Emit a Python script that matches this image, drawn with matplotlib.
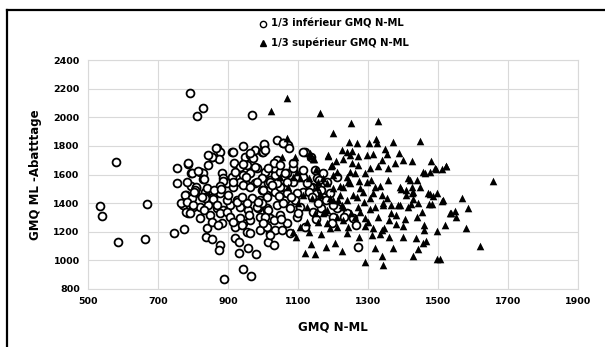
import matplotlib
matplotlib.use("Agg")
import matplotlib.pyplot as plt
from matplotlib.lines import Line2D

# ---------------- data ----------------
# 1/3 inferieur GMQ N-ML (open circles)
inf_x = [534, 540, 580, 585, 663, 670, 747, 775, 790, 811, 829, 968, 889, 942, 966, 1270,
         754, 787, 794, 755, 820, 828, 794, 809, 828, 844, 853, 868, 877, 875, 912, 942,
         949, 963, 977, 1004, 1039, 918, 934, 953, 972, 996, 882, 887, 910, 920, 944,
         963, 982, 1006, 1025, 1039, 896, 915, 934, 953, 977, 996, 1020, 1034,
         780, 806, 834, 858, 877, 866, 853, 844, 913, 963, 1003, 1001, 1056, 1072,
         1120, 1136, 787, 796, 815, 830, 782, 809, 806, 885, 877, 915, 942, 977,
         839, 837, 858, 777, 796, 772, 801, 787, 820, 844, 868, 887, 906, 925,
         944, 963, 982, 996, 1015, 1030, 1049, 1068, 1087, 1101, 968, 991, 1010, 1034,
         1058, 1087, 1115, 934, 958, 987, 1010, 1039, 1063, 1087, 1115, 1139,
         804, 767, 782, 801, 834, 780, 791, 820, 830, 849, 868, 877, 896,
         839, 837, 853, 877, 875, 853, 882, 920, 944, 953, 920, 930, 932, 958, 980,
         963, 991, 1020, 1015, 1030, 896, 925, 953, 982, 1010, 906, 934, 963, 991, 1020,
         1001, 1011, 996, 1015, 1006, 1030, 1011, 1034, 1020, 1049, 1068, 1058, 1077,
         1106, 1096, 1049, 1068, 1053, 1077, 1134, 1172, 1167, 1201, 1196, 1158, 1144,
         1258, 1267, 1210, 1239, 1006, 1058, 1075, 1115, 1030, 1049, 1015, 1063, 1087,
         1115, 1149, 1172, 1020, 1039, 1068, 1125, 1153, 1182, 1210, 1096, 1130, 1167,
         1191, 940, 1090, 1150, 1180, 1230, 1200, 1100, 1120, 1140, 1160,
         860, 900, 940, 985, 1045, 870, 915, 960, 1000, 1050, 825, 880, 950, 1025, 1080]
inf_y = [1380, 1310, 1687, 1128, 1151, 1392, 1193, 1219, 2170, 2007, 2063, 2016, 870, 940, 889, 1091,
         1643, 1673, 1608, 1543, 1620, 1608, 1520, 1504, 1566, 1667, 1720, 1783, 1760, 1706, 1760, 1802,
         1725, 1736, 1771, 1806, 1841, 1678, 1655, 1667, 1713, 1760, 1608, 1573, 1585, 1620, 1597,
         1608, 1643, 1620, 1643, 1701, 1538, 1515, 1550, 1527, 1538, 1573, 1562, 1597,
         1457, 1469, 1480, 1445, 1469, 1783, 1725, 1736, 1760, 1748, 1811, 1760, 1818, 1806,
         1754, 1725, 1678, 1613, 1627, 1567, 1550, 1511, 1492, 1557, 1520, 1550, 1673, 1655,
         1504, 1445, 1427, 1457, 1434, 1387, 1375, 1329, 1375, 1387, 1364, 1352, 1387, 1422,
         1527, 1515, 1550, 1492, 1539, 1643, 1620, 1608, 1643, 1585, 1434, 1422, 1457, 1480,
         1515, 1550, 1585, 1375, 1352, 1364, 1352, 1387, 1422, 1445, 1480, 1515,
         1480, 1399, 1410, 1387, 1434, 1340, 1329, 1294, 1352, 1317, 1387, 1329, 1340,
         1224, 1166, 1147, 1107, 1073, 1271, 1259, 1236, 1259, 1201, 1154, 1131, 1049, 1084, 1045,
         1189, 1212, 1189, 1131, 1107, 1422, 1410, 1399, 1375, 1364, 1306, 1294, 1282, 1306, 1294,
         1492, 1445, 1399, 1352, 1306, 1282, 1236, 1212, 1177, 1515, 1469, 1399, 1364,
         1375, 1306, 1317, 1259, 1212, 1189, 1515, 1445, 1364, 1306, 1259, 1399, 1340,
         1294, 1247, 1364, 1329, 1771, 1818, 1783, 1760, 1678, 1667, 1643, 1608, 1678,
         1632, 1632, 1608, 1550, 1539, 1550, 1539, 1574, 1550, 1585, 1469, 1480, 1492,
         1469, 1250, 1420, 1290, 1420, 1300, 1390, 1330, 1230, 1440, 1560,
         1495, 1455, 1440, 1410, 1450, 1250, 1270, 1320, 1260, 1290, 1440, 1500, 1580, 1530, 1440]

# 1/3 superieur GMQ N-ML (filled triangles)
sup_x = [1023, 1069, 1162, 1250, 1329, 1246, 1269, 1322, 1303, 1372, 1450, 1658, 1522, 1510,
         1514, 1569, 1586, 1536, 1549, 1580, 1620, 1506, 1292, 1344, 1497, 1120, 1149, 1227,
         1319, 1340, 1372, 1430, 1180, 1138, 1093, 1207, 1275, 1311, 1335, 1361, 1401, 1437,
         1465, 1444, 1458, 1496, 1459, 1511, 1534, 1475, 1455, 1441, 1406, 1381, 1347, 1314,
         1292, 1244, 1190, 1167, 1131, 1239, 1391, 1425, 1449, 1476, 1486, 1410, 1425, 1385,
         1367, 1422, 1344, 1320, 1353, 1199, 1325, 1187, 1225, 1239, 1253, 1249, 1272, 1296,
         1313, 1349, 1353, 1390, 1401, 1425, 1480, 1144, 1209, 1193, 1229, 1253, 1272, 1249,
         1263, 1306, 1329, 1339, 1358, 1377, 1291, 1463, 1477, 1491, 1244, 1275, 1310, 1334,
         1358, 1420, 1410, 1429, 1472, 1496, 1201, 1220, 1258, 1287, 1315, 1272, 1344, 1367,
         1391, 1415, 1444, 1482, 1215, 1229, 1163, 1182, 1172, 1201, 1134, 1053, 1068, 1091,
         1134, 1146, 1187, 1523, 1493, 1458, 1415, 1439, 1196, 1210, 1096, 1087, 1106, 1130,
         1158, 1049, 1072, 1153, 1182, 1229, 1249, 1277, 1296, 1320, 1339, 1306, 1268, 1239,
         1220, 1191, 1163, 1139, 1115, 1101, 1125, 1149, 1177, 1225, 1277, 1291, 1229, 1210,
         1182, 1158, 1125, 1106, 1087, 1263, 1300, 1330, 1380, 1400, 1250, 1290, 1360, 1395,
         1430, 1460, 1520, 1550, 1210, 1170, 1340, 1305, 1150, 1200, 1240]
sup_y = [2044, 2137, 2032, 1958, 1974, 1825, 1823, 1846, 1818, 1825, 1837, 1553, 1657, 1638,
         1420, 1434, 1369, 1331, 1345, 1224, 1100, 1008, 991, 966, 1012, 1049, 1047, 1064,
         1087, 1028, 1089, 1033, 1091, 1114, 1163, 1124, 1161, 1176, 1182, 1161, 1165, 1154,
         1135, 1080, 1119, 1207, 1212, 1418, 1334, 1392, 1336, 1306, 1288, 1252, 1229, 1224,
         1243, 1236, 1224, 1184, 1196, 1191, 1515, 1515, 1511, 1464, 1450, 1457, 1473, 1387,
         1334, 1394, 1387, 1375, 1434, 1888, 1823, 1736, 1771, 1759, 1766, 1736, 1729, 1736,
         1743, 1777, 1740, 1752, 1702, 1697, 1697, 1707, 1695, 1656, 1707, 1678, 1667, 1620,
         1613, 1643, 1660, 1702, 1643, 1678, 1613, 1613, 1620, 1643, 1550, 1557, 1562, 1520,
         1562, 1562, 1492, 1480, 1473, 1469, 1504, 1520, 1457, 1480, 1469, 1375, 1399, 1387,
         1387, 1371, 1399, 1394, 1422, 1375, 1457, 1352, 1574, 1597, 1748, 1725, 1853, 1725,
         1730, 1706, 1730, 1660, 1638, 1620, 1574, 1562, 1667, 1620, 1620, 1585, 1574, 1574,
         1550, 1585, 1515, 1515, 1539, 1515, 1539, 1504, 1550, 1515, 1457, 1434, 1445, 1422,
         1457, 1434, 1469, 1434, 1457, 1399, 1375, 1329, 1340, 1387, 1340, 1294, 1282, 1236,
         1259, 1271, 1271, 1236, 1201, 1300, 1270, 1300, 1320, 1240, 1330, 1410, 1280, 1500,
         1430, 1250, 1250, 1300, 1300, 1330, 1210, 1360, 1640, 1420, 1580]

label_inf = "1/3 inférieur GMQ N-ML"
label_sup = "1/3 supérieur GMQ N-ML"
xlabel = "GMQ N-ML"
ylabel = "GMQ ML -Abatttage"
xticks = [500, 700, 900, 1100, 1300, 1500, 1700, 1900]
yticks = [800, 1000, 1200, 1400, 1600, 1800, 2000, 2200, 2400]

# ---------------- figure ----------------
plt.rcParams['font.family'] = ['DejaVu Sans']
fig = plt.figure(figsize=(6.05, 3.47), dpi=100)
ax = fig.add_axes([88/605, 1-289/347, (578-88)/605, (289-60)/347])

grid_c = "#d9d9d9"
ax.set_xlim(500, 1900)
ax.set_ylim(800, 2400)
ax.set_xticks(xticks)
ax.set_yticks(yticks)
ax.grid(True, color=grid_c, linewidth=0.8)
ax.set_axisbelow(True)
for s in ax.spines.values():
    s.set_color(grid_c)
    s.set_linewidth(0.8)
ax.tick_params(length=0, labelsize=6.8, pad=6)
for lbl in ax.get_xticklabels() + ax.get_yticklabels():
    lbl.set_fontweight("bold")

ax.scatter(inf_x, inf_y, s=32, marker="o", facecolors="white",
           edgecolors="black", linewidths=1.3, zorder=3)
ax.scatter(sup_x, sup_y, s=30, marker="^", color="black",
           linewidths=0, zorder=4)

ax.set_xlabel(xlabel, fontsize=8.5, fontweight="bold", labelpad=10)
ax.set_ylabel(ylabel, fontsize=8.5, fontweight="bold", labelpad=8)

handles = [Line2D([], [], marker="o", linestyle="none", markerfacecolor="white",
                  markeredgecolor="black", markersize=4.5, markeredgewidth=1.0),
           Line2D([], [], marker="^", linestyle="none", color="black", markersize=4.5)]
leg = fig.legend(handles, [label_inf, label_sup], loc="upper center",
                 bbox_to_anchor=(333/605, 1-10/347), frameon=False,
                 prop={"size": 7.2, "weight": "bold"}, handletextpad=0.3,
                 handlelength=1.0, labelspacing=0.9)

# outer frame (top and left edges visible)
fig.add_artist(Line2D([7/605, 1.0], [1-10/347, 1-10/347], color="black",
                      linewidth=1.6, transform=fig.transFigure))
fig.add_artist(Line2D([7/605, 7/605], [0.0, 1-10/347], color="black",
                      linewidth=1.6, transform=fig.transFigure))

fig.savefig("out.png", dpi=100)
